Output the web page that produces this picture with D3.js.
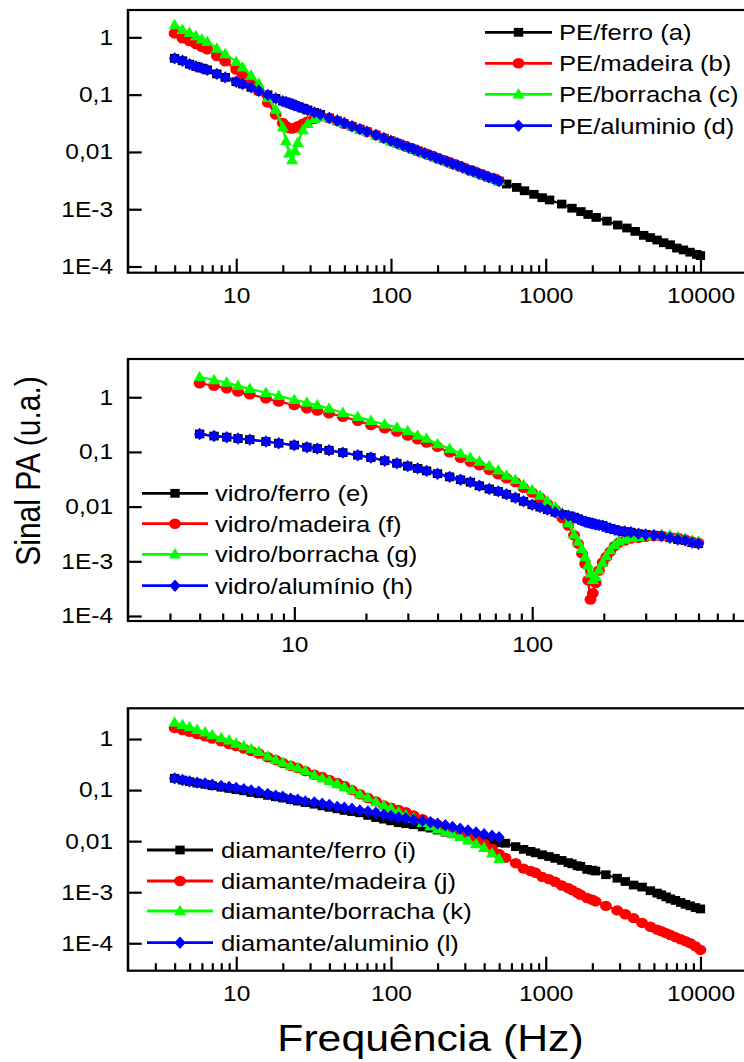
<!DOCTYPE html>
<html>
<head>
<meta charset="utf-8">
<script src="https://cdn.jsdelivr.net/npm/d3@7"></script>
<style>
  body { margin: 0; background: #fff; }
  svg { display: block; }
</style>
</head>
<body>
<script>
// ---- Axis ticks -------------------------------------------------------
const yTickValues = [1e-4, 1e-3, 0.01, 0.1, 1];
const yTickLabels = ["1E-4", "1E-3", "0,01", "0,1", "1"];
const xTickValuesWide = [10, 100, 1000, 10000];
const xTickLabelsWide = ["10", "100", "1000", "10000"];
const xTickValuesMid = [10, 100];
const xTickLabelsMid = ["10", "100"];

// ---- Panel 1: PE ------------------------------------------------------
const freqPE = [4, 4.5, 5, 5.5, 6, 6.5, 7.5, 8.5, 10, 11, 12.5, 14, 16, 18, 20, 21, 22, 23, 24, 25,
  27, 29, 32, 35, 40, 45, 50, 56, 63, 70, 80, 90, 100, 110, 120, 130, 140, 150, 165, 180,
  195, 210, 230, 250, 270, 290, 315, 340, 370, 400, 430, 465, 500];
const freqPEHigh = [560, 650, 730, 840, 950, 1060, 1270, 1480, 1690, 1880, 2120, 2490, 2920, 3350,
  3790, 4300, 4750, 5250, 5790, 6380, 7040, 7770, 8570, 9460, 10000];
const sigPEferro = [0.43, 0.39, 0.34, 0.31, 0.29, 0.27, 0.23, 0.20, 0.168, 0.153, 0.134, 0.117, 0.099, 0.086, 0.077, 0.074, 0.071, 0.068, 0.065, 0.062,
  0.058, 0.054, 0.049, 0.045, 0.039, 0.035, 0.031, 0.028, 0.025, 0.0225, 0.0197, 0.0174, 0.0156, 0.0142, 0.013, 0.012, 0.0112, 0.0104, 0.0095, 0.0087,
  0.008, 0.0074, 0.0068, 0.0062, 0.0058, 0.0054, 0.0049, 0.0046, 0.0042, 0.0039, 0.0036, 0.0034, 0.0031,
  0.00275, 0.0024, 0.0021, 0.00182, 0.00159, 0.00145, 0.00123, 0.00104, 0.00091, 0.00081, 0.00072, 0.00062, 0.00053, 0.00047,
  0.00041, 0.00035, 0.00032, 0.00029, 0.00026, 0.00024, 0.00021, 0.000195, 0.000178, 0.000163, 0.000155];
const sigPEmadeira = [1.17, 0.96, 0.86, 0.76, 0.68, 0.62, 0.47, 0.38, 0.275, 0.225, 0.165, 0.115, 0.073, 0.045, 0.032, 0.028, 0.026, 0.0255, 0.0265, 0.028,
  0.031, 0.034, 0.038, 0.042, 0.039, 0.035, 0.031, 0.028, 0.025, 0.0225, 0.0197, 0.0174, 0.0156, 0.0142, 0.013, 0.012, 0.0112, 0.0104, 0.0095, 0.0087,
  0.008, 0.0074, 0.0068, 0.0062, 0.0058, 0.0054, 0.0049, 0.0046, 0.0042, 0.0039, 0.0036, 0.0034, 0.0031];
const sigPEborracha = [1.64, 1.36, 1.2, 1.05, 0.92, 0.84, 0.64, 0.51, 0.375, 0.30, 0.215, 0.155, 0.088, 0.055, 0.027, 0.0155, 0.0095, 0.0072, 0.0105, 0.0145,
  0.024, 0.031, 0.038, 0.041, 0.040, 0.036, 0.032, 0.028, 0.025, 0.0225, 0.0197, 0.0174, 0.0156, 0.0142, 0.013, 0.012, 0.0112, 0.0104, 0.0095, 0.0087,
  0.008, 0.0074, 0.0068, 0.0062, 0.0058, 0.0054, 0.0049, 0.0046, 0.0042, 0.0039, 0.0036, 0.0034, 0.0031];
const sigPEaluminio = [0.43, 0.39, 0.34, 0.31, 0.29, 0.27, 0.23, 0.20, 0.168, 0.153, 0.134, 0.117, 0.099, 0.086, 0.077, 0.074, 0.071, 0.068, 0.065, 0.062,
  0.058, 0.054, 0.049, 0.045, 0.039, 0.035, 0.032, 0.028, 0.025, 0.0225, 0.0197, 0.0174, 0.0156, 0.0142, 0.013, 0.012, 0.0112, 0.0104, 0.0095, 0.0087,
  0.008, 0.0074, 0.0068, 0.0062, 0.0058, 0.0054, 0.0049, 0.0046, 0.0042, 0.0039, 0.0036, 0.0034, 0.0031];

// ---- Panel 2: vidro ---------------------------------------------------
const freqVidro = [4, 4.6, 5.2, 5.8, 6.5, 7.6, 8.6, 10, 11.3, 12.5, 14, 16, 18.5, 21, 24, 27, 30, 33, 36, 40,
  45, 50, 55, 60, 66, 72, 78, 85, 92, 100, 108, 116, 125, 134, 142, 150, 156, 162, 167, 172,
  176, 180, 185, 191, 198, 205, 213, 222, 232, 245, 260, 280, 300, 325, 350, 380, 410, 440, 470, 500];
const sigVidroFerro = [0.213, 0.195, 0.186, 0.176, 0.168, 0.155, 0.144, 0.133, 0.122, 0.115, 0.107, 0.097, 0.087, 0.079, 0.069, 0.062, 0.055, 0.05, 0.045, 0.04,
  0.035, 0.031, 0.028, 0.024, 0.021, 0.019, 0.0168, 0.0145, 0.0125, 0.0108, 0.0098, 0.0088, 0.0079, 0.0072, 0.0068, 0.0064, 0.006, 0.0056, 0.0053, 0.0051,
  0.005, 0.0049, 0.0047, 0.0046, 0.0045, 0.0042, 0.004, 0.0038, 0.0036, 0.0035, 0.0034, 0.0032, 0.0031, 0.003, 0.0029, 0.0027, 0.0025, 0.0024, 0.0022, 0.0021];
const sigVidroMadeira = [1.8, 1.62, 1.46, 1.27, 1.13, 0.96, 0.83, 0.72, 0.63, 0.57, 0.51, 0.44, 0.37, 0.31, 0.27, 0.235, 0.2, 0.17, 0.148, 0.124,
  0.098, 0.078, 0.066, 0.057, 0.047, 0.039, 0.033, 0.028, 0.022, 0.018, 0.0145, 0.0112, 0.0088, 0.0062, 0.0045, 0.003, 0.0021, 0.0014, 0.0009, 0.00045,
  0.0002, 0.00026, 0.0004, 0.00068, 0.00095, 0.0012, 0.0015, 0.0019, 0.0022, 0.0024, 0.0026, 0.0027, 0.0028, 0.0029, 0.0029, 0.0028, 0.0027, 0.0025, 0.0023, 0.0022];
const sigVidroBorracha = [2.35, 2.07, 1.85, 1.61, 1.42, 1.21, 1.06, 0.9, 0.8, 0.72, 0.62, 0.52, 0.44, 0.37, 0.32, 0.28, 0.24, 0.2, 0.175, 0.14,
  0.114, 0.093, 0.078, 0.067, 0.055, 0.046, 0.037, 0.031, 0.025, 0.02, 0.016, 0.0125, 0.0098, 0.0076, 0.005, 0.0031, 0.0023, 0.0017, 0.0012, 0.00085,
  0.0006, 0.00046, 0.00052, 0.0007, 0.00095, 0.00125, 0.0016, 0.002, 0.0023, 0.0025, 0.0027, 0.0028, 0.0029, 0.003, 0.003, 0.003, 0.0028, 0.0026, 0.0024, 0.0023];
const sigVidroAluminio = [0.213, 0.195, 0.186, 0.176, 0.168, 0.155, 0.144, 0.133, 0.122, 0.115, 0.107, 0.097, 0.087, 0.079, 0.069, 0.062, 0.055, 0.05, 0.045, 0.04,
  0.035, 0.031, 0.028, 0.024, 0.021, 0.019, 0.0168, 0.0145, 0.0125, 0.0108, 0.0098, 0.0088, 0.0079, 0.0072, 0.0068, 0.0064, 0.006, 0.0056, 0.0053, 0.0051,
  0.005, 0.0049, 0.0047, 0.0046, 0.0045, 0.0042, 0.004, 0.0038, 0.0036, 0.0035, 0.0034, 0.0032, 0.0031, 0.003, 0.0029, 0.0027, 0.0025, 0.0024, 0.0022, 0.0021];

// ---- Panel 3: diamante ------------------------------------------------
const freqDiam = [4, 4.5, 5, 5.6, 6.3, 7, 8, 9, 10, 11.2, 12.5, 14, 16, 18, 20, 22.5, 25, 28, 32, 36,
  40, 45, 50, 56, 63, 71, 80, 90, 100, 112, 125, 140, 160, 180, 200, 225, 250, 280, 315, 355,
  400, 450, 500];
const freqDiamHigh = [550, 640, 720, 800, 860, 950, 1050, 1150, 1270, 1400, 1480, 1600, 1680, 1850, 2000, 2100,
  2450, 2900, 3270, 3700, 4200, 4750, 5250, 5600, 6000, 6400, 6900, 7450, 8000, 8600, 9300, 10000];
const sigDiamFerro = [0.17, 0.157, 0.146, 0.137, 0.13, 0.122, 0.114, 0.108, 0.102, 0.097, 0.09, 0.085, 0.079, 0.074, 0.07, 0.065, 0.061, 0.057, 0.053, 0.049,
  0.046, 0.043, 0.04, 0.038, 0.036, 0.032, 0.029, 0.027, 0.025, 0.023, 0.022, 0.021, 0.019, 0.018, 0.0165, 0.015, 0.014, 0.013, 0.012, 0.011,
  0.0105, 0.0098, 0.0093,
  0.0091, 0.0078, 0.0069, 0.0063, 0.0059, 0.0054, 0.005, 0.0046, 0.0042, 0.0038, 0.0036, 0.0033, 0.0032, 0.0028, 0.0027, 0.0026,
  0.0022, 0.00188, 0.00162, 0.00138, 0.00126, 0.00107, 0.00096, 0.00089, 0.00081, 0.00074, 0.00069, 0.00063, 0.00058, 0.00054, 0.0005, 0.00047];
const sigDiamMadeira = [1.65, 1.5, 1.38, 1.25, 1.13, 1.02, 0.9, 0.8, 0.73, 0.65, 0.58, 0.52, 0.44, 0.39, 0.34, 0.3, 0.27, 0.235, 0.2, 0.18,
  0.158, 0.138, 0.12, 0.1, 0.083, 0.07, 0.06, 0.05, 0.045, 0.041, 0.037, 0.032, 0.027, 0.023, 0.021, 0.018, 0.016, 0.0142, 0.0124, 0.0105,
  0.009, 0.0071, 0.0056,
  0.0047, 0.0037, 0.0029, 0.0026, 0.0024, 0.002, 0.0018, 0.0016, 0.00135, 0.0012, 0.0011, 0.00097, 0.00089, 0.00077, 0.00071, 0.00066,
  0.00054, 0.00044, 0.00037, 0.00031, 0.00025, 0.00021, 0.000185, 0.000172, 0.000158, 0.000145, 0.000132, 0.00012, 0.00011, 0.0001, 0.000087, 0.000074];
const sigDiamBorracha = [2.1, 1.9, 1.72, 1.52, 1.36, 1.2, 1.05, 0.94, 0.82, 0.73, 0.64, 0.56, 0.46, 0.39, 0.345, 0.3, 0.27, 0.24, 0.195, 0.17,
  0.152, 0.132, 0.115, 0.1, 0.083, 0.071, 0.058, 0.05, 0.044, 0.037, 0.032, 0.028, 0.023, 0.0195, 0.017, 0.0152, 0.0138, 0.0122, 0.0104, 0.0088,
  0.0074, 0.0058, 0.0045];
const sigDiamAluminio = [0.17, 0.158, 0.148, 0.14, 0.135, 0.127, 0.12, 0.115, 0.11, 0.104, 0.098, 0.093, 0.084, 0.078, 0.074, 0.068, 0.065, 0.06, 0.057, 0.054,
  0.051, 0.047, 0.045, 0.043, 0.04, 0.038, 0.036, 0.033, 0.031, 0.029, 0.028, 0.026, 0.025, 0.0235, 0.022, 0.0205, 0.019, 0.0175, 0.0162, 0.0148,
  0.0137, 0.0128, 0.0119];

// ---- Drawing ----------------------------------------------------------
const W = 744, H = 1062;
const SX = 1.14;                 // horizontal stretch of the whole figure
const ix = v => v / SX;          // page px -> inner x units
const FONT = "'Liberation Sans', Arial, Helvetica, sans-serif";
const COLORS = { ferro: "#000000", madeira: "#ff0000", borracha: "#00ff00", aluminio: "#0000ff" };

const pair = (f, v) => f.map((d, i) => [d, v[i]]);

const panels = [
  {
    top: 10, bottom: 272.7, xDomain: [2, 20000], xRange: [128, 747], yDomain: [7.8e-5, 3.0],
    xTicks: xTickValuesWide, xLabels: xTickLabelsWide,
    legend: { x0: 485, x1: 552, tx: 559, ys: [32.3, 63.3, 94.3, 125.7] },
    series: [
      { name: "PE/ferro (a)", color: COLORS.ferro, sym: "square", data: pair(freqPE.concat(freqPEHigh), sigPEferro) },
      { name: "PE/madeira (b)", color: COLORS.madeira, sym: "circle", data: pair(freqPE, sigPEmadeira) },
      { name: "PE/borracha (c)", color: COLORS.borracha, sym: "triangle", data: pair(freqPE, sigPEborracha) },
      { name: "PE/aluminio (d)", color: COLORS.aluminio, sym: "diamond", data: pair(freqPE, sigPEaluminio) }
    ]
  },
  {
    top: 359, bottom: 621, xDomain: [2, 1000], xRange: [128, 770], yDomain: [8.1e-5, 5.0],
    xTicks: xTickValuesMid, xLabels: xTickLabelsMid,
    legend: { x0: 142, x1: 208, tx: 215, ys: [493.3, 523.7, 554.3, 585.7] },
    series: [
      { name: "vidro/ferro (e)", color: COLORS.ferro, sym: "square", data: pair(freqVidro, sigVidroFerro) },
      { name: "vidro/madeira (f)", color: COLORS.madeira, sym: "circle", data: pair(freqVidro, sigVidroMadeira) },
      { name: "vidro/borracha (g)", color: COLORS.borracha, sym: "triangle", data: pair(freqVidro, sigVidroBorracha) },
      { name: "vidro/alumínio (h)", color: COLORS.aluminio, sym: "diamond", data: pair(freqVidro, sigVidroAluminio) }
    ]
  },
  {
    top: 708.3, bottom: 970.7, xDomain: [2, 20000], xRange: [128, 747], yDomain: [2.9e-5, 4.0],
    xTicks: xTickValuesWide, xLabels: xTickLabelsWide,
    legend: { x0: 147, x1: 213, tx: 221, ys: [850, 881, 911, 942.7] },
    series: [
      { name: "diamante/ferro (i)", color: COLORS.ferro, sym: "square", data: pair(freqDiam.concat(freqDiamHigh), sigDiamFerro) },
      { name: "diamante/madeira (j)", color: COLORS.madeira, sym: "circle", data: pair(freqDiam.concat(freqDiamHigh), sigDiamMadeira) },
      { name: "diamante/borracha (k)", color: COLORS.borracha, sym: "triangle", data: pair(freqDiam, sigDiamBorracha) },
      { name: "diamante/aluminio (l)", color: COLORS.aluminio, sym: "diamond", data: pair(freqDiam, sigDiamAluminio) }
    ]
  }
];

// marker outlines in inner units (x already compensated for the stretch)
function symbolPath(kind, cx, cy) {
  const p = d3.path();
  if (kind === "square") {
    const w = ix(9.4) / 2, h = 4.4;
    p.rect(cx - w, cy - h, 2 * w, 2 * h);
  } else if (kind === "circle") {
    p.arc(cx, cy, 5.2, 0, 2 * Math.PI);
  } else if (kind === "triangle") {
    const w = ix(12) / 2;
    p.moveTo(cx, cy - 6.3); p.lineTo(cx + w, cy + 4.2); p.lineTo(cx - w, cy + 4.2); p.closePath();
  } else {
    const w = ix(11.4) / 2, h = 6.2;
    p.moveTo(cx, cy - h); p.lineTo(cx + w, cy); p.lineTo(cx, cy + h); p.lineTo(cx - w, cy); p.closePath();
  }
  return p.toString();
}

function minorTicks(domain) {
  const out = [];
  const lo = Math.floor(Math.log10(domain[0])), hi = Math.ceil(Math.log10(domain[1]));
  for (let e = lo; e < hi; e++) {
    for (let k = 2; k <= 9; k++) {
      const v = k * Math.pow(10, e);
      if (v > domain[0] && v < domain[1]) out.push(v);
    }
  }
  return out;
}

const svg = d3.select("body").append("svg").attr("width", W).attr("height", H);
svg.append("rect").attr("width", W).attr("height", H).attr("fill", "#fff");
const root = svg.append("g").attr("transform", `scale(${SX},1)`);

panels.forEach(p => {
  const x = d3.scaleLog().domain(p.xDomain).range(p.xRange.map(ix));
  const y = d3.scaleLog().domain(p.yDomain).range([p.bottom, p.top]);
  const g = root.append("g");

  // series: connecting line then symbols, in legend order
  const line = d3.line().x(d => x(d[0])).y(d => y(d[1]));
  p.series.forEach(s => {
    const sg = g.append("g");
    sg.append("path").attr("d", line(s.data)).attr("fill", "none")
      .attr("stroke", s.color).attr("stroke-width", 2.2);
    sg.selectAll("path.pt").data(s.data).join("path").attr("class", "pt")
      .attr("d", d => symbolPath(s.sym, x(d[0]), y(d[1])))
      .attr("fill", s.color);
  });

  // frame
  g.append("rect")
    .attr("x", ix(p.xRange[0])).attr("y", p.top)
    .attr("width", ix(p.xRange[1]) - ix(p.xRange[0])).attr("height", p.bottom - p.top)
    .attr("fill", "none").attr("stroke", "#000").attr("stroke-width", 2.2);

  // x axis: major ticks with labels, minor ticks without
  const xa = g.append("g").attr("transform", `translate(0,${p.bottom})`)
    .call(d3.axisBottom(x).tickValues(p.xTicks).tickFormat((d, i) => p.xLabels[i])
      .tickSize(-14).tickSizeOuter(0).tickPadding(15.3));
  const xm = g.append("g").attr("transform", `translate(0,${p.bottom})`)
    .call(d3.axisBottom(x).tickValues(minorTicks(p.xDomain)).tickFormat(() => "")
      .tickSize(-7.5).tickSizeOuter(0));

  // y axis
  const ya = g.append("g").attr("transform", `translate(${ix(p.xRange[0])},0)`)
    .call(d3.axisLeft(y).tickValues(yTickValues).tickFormat((d, i) => yTickLabels[i])
      .tickSize(-ix(13.7)).tickSizeOuter(0).tickPadding(ix(15)));

  [xa, xm, ya].forEach(a => {
    a.select(".domain").remove();
    a.attr("font-size", 21.5).attr("font-family", FONT);
    a.selectAll("text").attr("fill", "#000");
  });
  xa.selectAll(".tick line").attr("stroke-width", 1.9);
  xm.selectAll(".tick line").attr("stroke-width", 1.9);
  ya.selectAll(".tick line").attr("stroke-width", 2.2);

  // legend
  const lg = g.append("g").attr("font-family", FONT).attr("font-size", 22.5);
  p.series.forEach((s, i) => {
    const ly = p.legend.ys[i];
    lg.append("line").attr("x1", ix(p.legend.x0)).attr("x2", ix(p.legend.x1))
      .attr("y1", ly).attr("y2", ly).attr("stroke", s.color).attr("stroke-width", 2.8);
    lg.append("path").attr("d", symbolPath(s.sym, ix((p.legend.x0 + p.legend.x1) / 2), ly))
      .attr("fill", s.color);
    lg.append("text").attr("x", ix(p.legend.tx)).attr("y", ly + 8.1)
      .attr("fill", "#000").text(s.name);
  });
});

// axis titles
root.append("text")
  .attr("transform", `translate(${ix(40)},471) rotate(-90)`)
  .attr("text-anchor", "middle").attr("font-family", FONT).attr("font-size", 30)
  .attr("fill", "#000").text("Sinal PA (u.a.)");
root.append("text")
  .attr("x", ix(430.5)).attr("y", 1051)
  .attr("text-anchor", "middle").attr("font-family", FONT).attr("font-size", 37.5)
  .attr("fill", "#000").text("Frequência (Hz)");
</script>
</body>
</html>
